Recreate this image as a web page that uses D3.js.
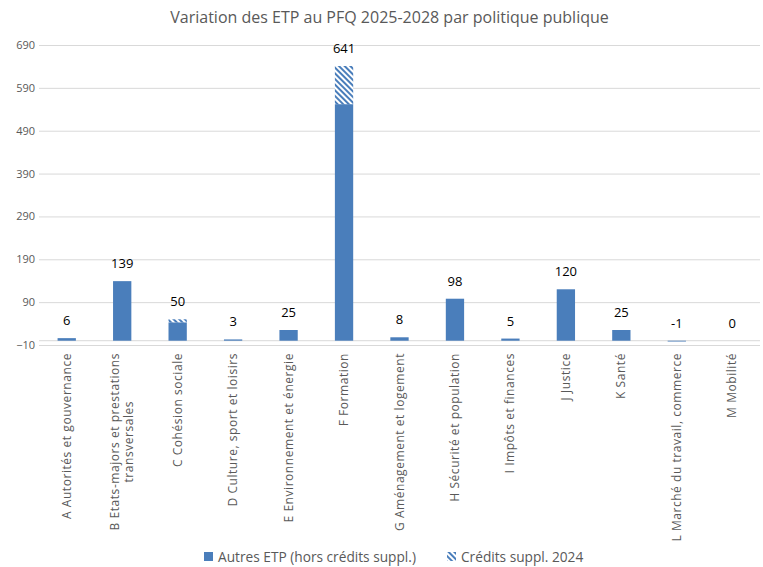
<!DOCTYPE html>
<html>
<head>
<meta charset="utf-8">
<script src="https://cdn.jsdelivr.net/npm/d3@7"></script>
<style>
  body { margin: 0; background: #fff; }
  text { font-family: "Open Sans", "Liberation Sans", Arial, sans-serif; }
</style>
</head>
<body>
<div id="chart"></div>
<script>
// categories (wrapped labels use "|")
const categories = [
  "A Autorités et gouvernance",
  "B Etats-majors et prestations|transversales",
  "C Cohésion sociale",
  "D Culture, sport et loisirs",
  "E Environnement et énergie",
  "F Formation",
  "G Aménagement et logement",
  "H Sécurité et population",
  "I Impôts et finances",
  "J Justice",
  "K Santé",
  "L Marché du travail, commerce",
  "M Mobilité"
];
const autresEtp = [6, 139, 43, 3, 25, 552, 8, 98, 5, 120, 25, -1, 0];
const creditsSuppl = [0, 0, 7, 0, 0, 89, 0, 0, 0, 0, 0, 0, 0];
const totals = [6, 139, 50, 3, 25, 641, 8, 98, 5, 120, 25, -1, 0];
const yTicks = [-10, 90, 190, 290, 390, 490, 590, 690];
const seriesNames = ["Autres ETP (hors crédits suppl.)", "Crédits suppl. 2024"];

const width = 763, height = 567;
const margin = {left: 39, right: 3, top: 45, bottom: 222};
const blue = "#4a7ebb";

let svg = d3.select("#chart").append("svg").attr("width", width).attr("height", height);

svg.append("defs").append("pattern")
    .attr("id", "hatch")
    .attr("patternUnits", "userSpaceOnUse")
    .attr("width", 4).attr("height", 4)
    .attr("patternTransform", "rotate(-45)")
    .call(p => {
        p.append("rect").attr("width", 4).attr("height", 4).attr("fill", "#fff");
        p.append("rect").attr("width", 2).attr("height", 4).attr("fill", blue);
    });

let x = d3.scaleBand().domain(categories).range([margin.left, width - margin.right]).paddingInner(0.67).paddingOuter(0.335);
let y = d3.scaleLinear().domain([-10, 690]).range([height - margin.bottom, margin.top]);

// title
svg.append("text")
    .attr("x", width / 2 + 8).attr("y", 23)
    .attr("text-anchor", "middle")
    .attr("font-size", 16).attr("fill", "#595959")
    .text("Variation des ETP au PFQ 2025-2028 par politique publique");

// gridlines + tick labels
let yAxis = d3.axisLeft(y).tickValues(yTicks).tickSize(-(width - margin.left - margin.right)).tickPadding(10);
svg.append("g").attr("transform", `translate(${margin.left},0)`).call(yAxis)
    .call(g => g.select(".domain").remove())
    .call(g => g.selectAll(".tick line").attr("stroke", "#d9d9d9"))
    .call(g => g.selectAll(".tick text").attr("font-size", 11).attr("fill", "#595959").attr("x", -4));

// zero line
svg.append("line")
    .attr("x1", margin.left).attr("x2", width - margin.right)
    .attr("y1", y(0)).attr("y2", y(0))
    .attr("stroke", "#d9d9d9");

// bars
let bars = svg.append("g");
bars.selectAll(".base").data(categories).enter().append("rect")
    .attr("x", d => x(d))
    .attr("width", x.bandwidth())
    .attr("y", (d, i) => y(Math.max(autresEtp[i], 0)))
    .attr("height", (d, i) => Math.max(Math.abs(y(autresEtp[i]) - y(0)), autresEtp[i] === 0 ? 0 : 0.8))
    .attr("fill", blue);

bars.selectAll(".extra").data(categories).enter().append("rect")
    .filter((d, i) => creditsSuppl[i] > 0)
    .attr("x", d => x(d))
    .attr("width", x.bandwidth())
    .attr("y", d => { let i = categories.indexOf(d); return y(autresEtp[i] + creditsSuppl[i]); })
    .attr("height", d => { let i = categories.indexOf(d); return y(autresEtp[i]) - y(autresEtp[i] + creditsSuppl[i]); })
    .attr("fill", "url(#hatch)");

// data labels
svg.selectAll(".lbl").data(categories).enter().append("text")
    .attr("x", d => x(d) + x.bandwidth() / 2)
    .attr("y", (d, i) => y(Math.max(totals[i], 0)) - 13)
    .attr("text-anchor", "middle")
    .attr("font-size", 13).attr("fill", "#000")
    .text((d, i) => totals[i]);

// category labels, rotated
let lab = svg.selectAll(".cat").data(categories).enter().append("g")
    .attr("transform", d => `translate(${x(d) + x.bandwidth() / 2},${y(-10) + 8}) rotate(-90)`);
lab.each(function(d) {
    let lines = d.split("|");
    let g = d3.select(this);
    let texts = lines.map((l, k) => g.append("text")
        .attr("font-size", 12).attr("fill", "#595959")
        .attr("letter-spacing", 0.55)
        .attr("text-anchor", "end")
        .attr("y", (k - (lines.length - 1) / 2) * 14 + 4)
        .text(l));
    if (lines.length > 1) {
        let w0 = texts[0].node().getComputedTextLength();
        texts.slice(1).forEach(t => {
            let w = t.node().getComputedTextLength();
            t.attr("x", -(w0 - w) / 2);
        });
    }
});

// legend
let legend = svg.append("g").attr("transform", `translate(204,552)`);
legend.append("rect").attr("width", 9).attr("height", 9).attr("fill", blue);
legend.append("text").attr("x", 14).attr("y", 9.5).attr("font-size", 13.7).attr("fill", "#595959").text(seriesNames[0]);
legend.append("rect").attr("x", 243).attr("width", 9).attr("height", 9).attr("fill", "url(#hatch)");
legend.append("text").attr("x", 257).attr("y", 9.5).attr("font-size", 13.7).attr("fill", "#595959").text(seriesNames[1]);
</script>
</body>
</html>
